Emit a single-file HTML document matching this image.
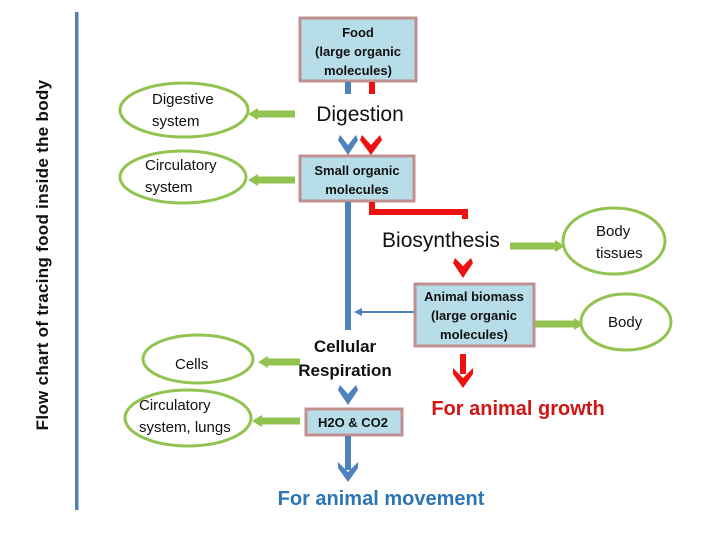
<!DOCTYPE html>
<html><head><meta charset="utf-8"><style>body{margin:0;background:#fff}svg{display:block}text{font-family:"Liberation Sans",sans-serif}</style></head>
<body>
<svg width="720" height="540" viewBox="0 0 720 540" xmlns="http://www.w3.org/2000/svg">
<defs>
<marker id="g" markerWidth="4" markerHeight="4" refX="2" refY="2" orient="auto" markerUnits="strokeWidth"><path d="M0,0 L2,2 L0,4" fill="none" stroke="#92c350" stroke-width="1"/></marker>
</defs>
<rect x="75" y="12" width="3.5" height="498" fill="#4f81bd"/>
<text transform="translate(48,255) rotate(-90)" font-size="17" text-anchor="middle" fill="#111" font-weight="bold" letter-spacing="0.3">Flow chart of tracing food inside the body</text>

<g fill="#b7dde8" stroke="#c09090" stroke-width="3">
<rect x="300" y="18" width="116" height="63"/>
<rect x="300" y="156" width="114" height="45"/>
<rect x="415" y="284" width="119" height="62"/>
<rect x="306" y="409" width="96" height="26"/>
</g>
<g font-size="13" font-weight="bold" text-anchor="middle" fill="#111">
<text x="358" y="37">Food</text><text x="358" y="56">(large organic</text><text x="358" y="75">molecules)</text>
<text x="357" y="175">Small organic</text><text x="357" y="194">molecules</text>
<text x="474" y="301">Animal biomass</text><text x="474" y="320">(large organic</text><text x="474" y="339">molecules)</text>
<text x="353" y="427">H2O &amp; CO2</text>
</g>
<text x="360" y="121" font-size="21" text-anchor="middle" fill="#111">Digestion</text>
<text x="441" y="247" font-size="21" text-anchor="middle" fill="#111">Biosynthesis</text>
<text x="345" y="352" font-size="17" font-weight="bold" text-anchor="middle" fill="#111">Cellular</text>
<text x="345" y="376" font-size="17" font-weight="bold" text-anchor="middle" fill="#111">Respiration</text>
<text x="518" y="415" font-size="20" font-weight="bold" text-anchor="middle" fill="#d01515">For animal growth</text>
<text x="381" y="505" font-size="20" font-weight="bold" text-anchor="middle" fill="#2e75b6">For animal movement</text>

<!-- blue -->
<g fill="#4f81bd" stroke="none">
<rect x="345" y="82" width="6" height="12"/>
<path d="M340,135 L348,145 L356,135 L358,140 L348,155 L338,140Z"/>
<rect x="345" y="202" width="6" height="128"/>
<path d="M340,385 L348,394 L356,385 L358,390 L348,405 L338,390Z"/>
<rect x="345" y="436" width="6" height="34"/>
<path d="M338,462 L348,472 L358,462 L358,468 L348,482 L338,468Z"/>
</g>
<line x1="414" y1="312" x2="360" y2="312" stroke="#4f81bd" stroke-width="2"/>
<path d="M354,312 L362,308 L362,316Z" fill="#4f81bd"/>
<!-- red -->
<g fill="#ee1111">
<rect x="369" y="82" width="6" height="12"/>
<path d="M362,135 L371,145 L380,135 L382,140 L371,155 L360,140Z"/>
<path d="M369,202 h6 v7 h93 v10 h-6 v-4 h-93Z"/>
<path d="M455,258 L463,266 L471,258 L473,263 L463,278 L453,263Z"/>
<rect x="460" y="354" width="6" height="20"/>
<path d="M453,368 L463,378 L473,368 L473,374 L463,388 L453,374Z"/>
</g>
<!-- green arrows -->
<g stroke="#92c350" stroke-width="7" fill="none">
<line x1="295" y1="114" x2="254" y2="114"/>
<line x1="295" y1="180" x2="254" y2="180"/>
<line x1="300" y1="362" x2="264" y2="362"/>
<line x1="300" y1="421" x2="258" y2="421"/>
<line x1="510" y1="246" x2="558" y2="246"/>
<line x1="535" y1="324" x2="578" y2="324"/>
</g>
<g fill="#92c350">
<path d="M248,114 L258,108 L258,120Z"/>
<path d="M248,180 L258,174 L258,186Z"/>
<path d="M258,362 L268,356 L268,368Z"/>
<path d="M252,421 L262,415 L262,427Z"/>
<path d="M565,246 L555,240 L555,252Z"/>
<path d="M584,324 L574,318 L574,330Z"/>
</g>
<g fill="#fff" stroke="#92c350" stroke-width="3">
<ellipse cx="184" cy="110" rx="64" ry="27"/>
<ellipse cx="183" cy="177" rx="63" ry="26"/>
<ellipse cx="198" cy="359" rx="55" ry="24"/>
<ellipse cx="188" cy="418" rx="63" ry="28"/>
<ellipse cx="614" cy="241" rx="51" ry="33"/>
<ellipse cx="626" cy="322" rx="45" ry="28"/>
</g>
<g font-size="15" fill="#111">
<text x="152" y="104">Digestive</text><text x="152" y="126">system</text>
<text x="145" y="170">Circulatory</text><text x="145" y="192">system</text>
<text x="175" y="369">Cells</text>
<text x="139" y="410">Circulatory</text><text x="139" y="432">system, lungs</text>
<text x="596" y="236">Body</text><text x="596" y="258">tissues</text>
<text x="608" y="327">Body</text>
</g>
</svg>
</body></html>
